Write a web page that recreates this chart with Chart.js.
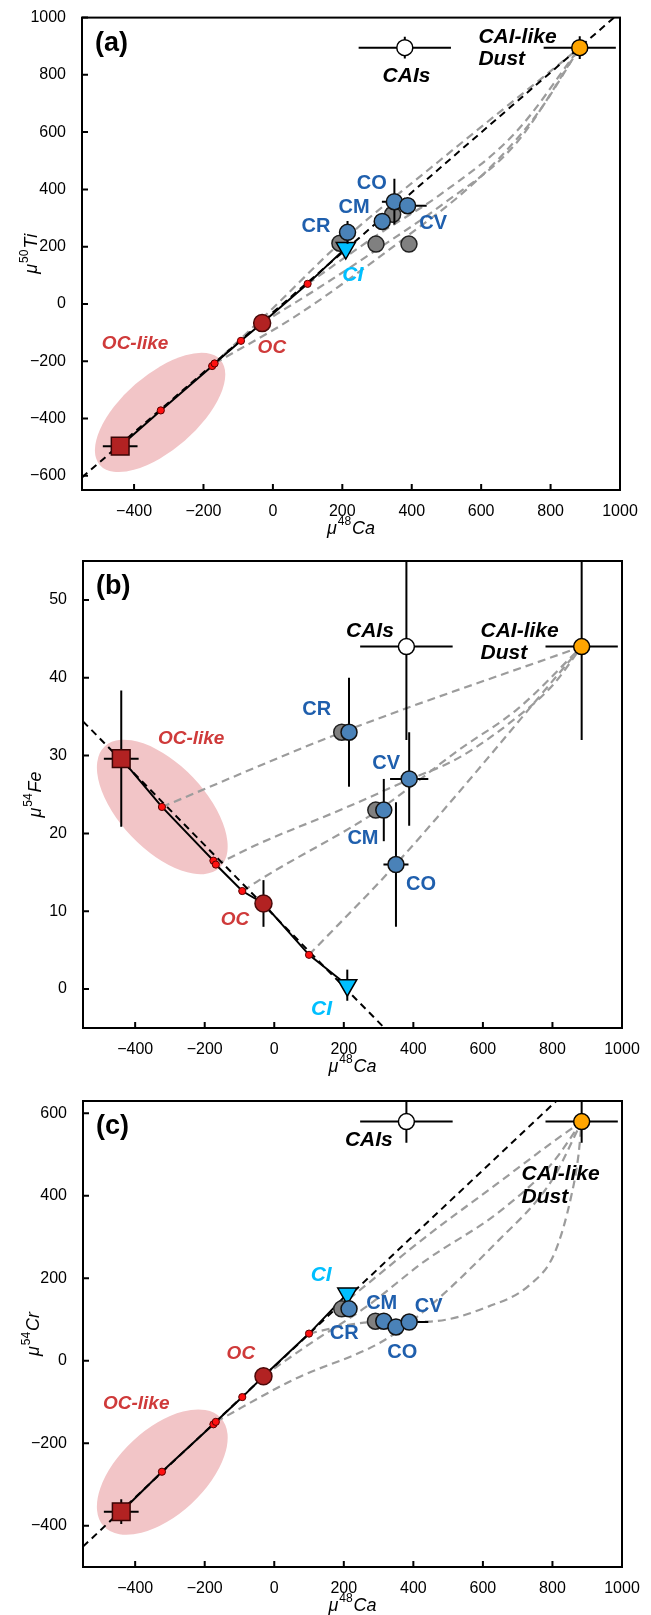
<!DOCTYPE html>
<html>
<head>
<meta charset="utf-8">
<script src="https://cdn.jsdelivr.net/npm/chart.js@4.4.1/dist/chart.umd.min.js"></script>
<style>
  body { margin: 0; background: #fff; }
  .panel { position: absolute; left: 0; }
</style>
</head>
<body>
<div class="panel" style="top:0px"><canvas id="chartA" width="651" height="540"></canvas></div>
<div class="panel" style="top:540px"><canvas id="chartB" width="651" height="540"></canvas></div>
<div class="panel" style="top:1080px"><canvas id="chartC" width="651" height="535"></canvas></div>
<script>
// ---- tick labels ----
const ticksCa = [-400, -200, 0, 200, 400, 600, 800, 1000];
const ticksTi = [-600, -400, -200, 0, 200, 400, 600, 800, 1000];
const ticksFe = [0, 10, 20, 30, 40, 50];
const ticksCr = [-400, -200, 0, 200, 400, 600];

// ---- CAIs, CAI-like Dust ----
const refCa = [380, 884];
const refCaErr = [133, 104];
const refTi = [895, 895];
const refTiErr = [38, 40];
const refFe = [44, 44];
const refFeErr = [12, 12];
const refCr = [580, 580];
const refCrErr = [51, 51];

// ---- OC-like, OC, CI ----
const ocCa = [-440, -31, 210];
const ocCaErr = [50, 0, 0];
const ocTi = [-497, -67, 195];
const ocFe = [29.6, 11, 0.5];
const ocFeErr = [8.75, 3, 2];
const ocCr = [-366, -37.5, 163];
const ocCrErr = [30, 0, 0];

// ---- carbonaceous chondrites: CR, CM, CO, CV ----
const ccCa = [215, 315, 350, 388];
const ccCaErr = [0, 0, 36, 55];
const ccTi = [250, 288, 357, 343];
const ccTiErr = [40, 0, 80, 0];
const ccFe = [33, 23, 16, 27];
const ccFeErr = [7, 4, 8, 6];
const ccCr = [126, 96, 82, 94];

// grey points behind the groups
const greyCaA = [193, 297, 392, 345];
const greyTi = [212, 209, 209, 313];
const greyCaB = [194, 292];
const greyFe = [33, 23];
const greyCaC = [194, 291];
const greyCr = [126, 96];

// ---- small points on the OC - CI line ----
const mixCa = [-323, -175, -168, -92, 100];
const mixTi = [-372, -217, -208, -129, 70];
const mixFe = [23.4, 16.5, 16.0, 12.6, 4.4];
const mixCr = [-269, -154, -148, -88, 66];

// ---- black dashed regression lines ----
const dashCa = [-550, 1000];
const dashTi = [-606, 1018];
const dashCaB = [-550, 330];
const dashFe = [34.4, -5.6];
const dashCr = [-450.6, 780];

// ---- grey mixing curves to the CAI-like dust ----
const curvesTi = [
  [[-168, -208], [0, -15], [193, 212], [480, 500], [884, 895]],
  [[100, 70], [300, 240], [480, 380], [700, 600], [884, 895]],
  [[-31, -67], [150, 70], [300, 190], [480, 340], [700, 560], [884, 895]],
  [[-168, -208], [59, -48], [251, 114], [385, 235], [530, 370], [649, 505], [769, 676], [884, 895]]
];
const curvesFe = [
  [[-323, 23.4], [195, 33], [884, 44]],
  [[-167, 16.0], [-43, 18.7], [200, 23.2], [387, 26.9], [530, 29.7], [700, 35], [800, 39], [884, 44]],
  [[-90, 12.6], [-43, 14], [300, 23], [530, 30.7], [700, 36], [884, 44]],
  [[100, 4.4], [349, 16], [884, 44]]
];
const curvesCr = [
  [[215, 150], [435, 300], [645, 432], [800, 530], [884, 580]],
  [[-31, -37], [100, 40], [263, 130], [435, 243], [645, 360], [800, 480], [884, 580]],
  [[-168, -148], [52, -47], [339, 62], [645, 292], [800, 440], [884, 580]],
  [[100, 66], [200, 85], [291, 94], [443, 95], [617, 132], [736, 185], [807, 263], [855, 403], [875, 500], [884, 580]]
];

const FONT = '"Liberation Sans", Arial, Helvetica, sans-serif';
const BLUE = '#1f5fad', RED = '#cf3a3a', CYAN = '#00bfff';

const pts = (xs, ys) => xs.map((v, i) => ({ x: v, y: ys[i] }));
const fmt = v => (v < 0 ? '\u2212' + Math.abs(v) : String(v));

// draws "μ", a superscript mass number and the element, optionally rotated
function drawMu(ctx, sup, tail, cx, cy, rotate) {
  ctx.save();
  ctx.translate(cx, cy);
  if (rotate) ctx.rotate(-Math.PI / 2);
  const big = 'italic 18px ' + FONT, small = '12px ' + FONT;
  ctx.font = big;
  const w1 = ctx.measureText('\u03bc').width, w3 = ctx.measureText(tail).width;
  ctx.font = small;
  const w2 = ctx.measureText(sup).width;
  let x0 = -(w1 + w2 + w3 + 2) / 2;
  ctx.fillStyle = '#000';
  ctx.textAlign = 'left';
  ctx.textBaseline = 'alphabetic';
  ctx.font = big; ctx.fillText('\u03bc', x0, 6);
  ctx.font = small; ctx.fillText(sup, x0 + w1 + 1, -3);
  ctx.font = big; ctx.fillText(tail, x0 + w1 + w2 + 2, 6);
  ctx.restore();
}

const labelStyle = {
  k: { font: 'italic bold 21px ' + FONT, color: '#000', size: 21 },
  b: { font: 'bold 20px ' + FONT, color: BLUE, size: 20 },
  r: { font: 'italic bold 19px ' + FONT, color: RED, size: 19 },
  c: { font: 'italic bold 21px ' + FONT, color: CYAN, size: 21 }
};

const decor = {
  id: 'decor',
  beforeDatasetsDraw(chart, args, o) {
    const { ctx, chartArea: a } = chart;
    const x = chart.scales.x, y = chart.scales.y;
    const e = o.ellipse;
    ctx.save();
    ctx.beginPath();
    ctx.rect(a.left, a.top, a.width, a.height);
    ctx.clip();
    ctx.beginPath();
    ctx.ellipse(x.getPixelForValue(e.x), y.getPixelForValue(e.y), e.rx, e.ry, e.rot * Math.PI / 180, 0, 2 * Math.PI);
    ctx.fillStyle = '#f2c5c7';
    ctx.fill();
    ctx.restore();
  },
  // error bars go right under the markers they belong to
  beforeDatasetDraw(chart, args) {
    const ds = chart.data.datasets[args.index];
    if (!ds.errX && !ds.errY) return;
    const { ctx, chartArea: a } = chart;
    const x = chart.scales.x, y = chart.scales.y;
    ctx.save();
    ctx.beginPath();
    ctx.rect(a.left, a.top, a.width, a.height);
    ctx.clip();
    ctx.strokeStyle = '#000';
    ctx.lineWidth = 2;
    ds.data.forEach((p, i) => {
      const px = x.getPixelForValue(p.x), py = y.getPixelForValue(p.y);
      ctx.beginPath();
      if (ds.errX && ds.errX[i]) {
        ctx.moveTo(x.getPixelForValue(p.x - ds.errX[i]), py);
        ctx.lineTo(x.getPixelForValue(p.x + ds.errX[i]), py);
      }
      if (ds.errY && ds.errY[i]) {
        ctx.moveTo(px, y.getPixelForValue(p.y - ds.errY[i]));
        ctx.lineTo(px, y.getPixelForValue(p.y + ds.errY[i]));
      }
      ctx.stroke();
    });
    ctx.restore();
  },
  afterDraw(chart, args, o) {
    const { ctx, chartArea: a } = chart;
    const x = chart.scales.x, y = chart.scales.y;
    ctx.save();
    // frame
    ctx.strokeStyle = '#000';
    ctx.lineWidth = 2;
    ctx.strokeRect(a.left, a.top, a.width, a.height);
    // inward ticks on bottom and left
    ctx.beginPath();
    x.ticks.forEach(t => {
      const px = x.getPixelForValue(t.value);
      ctx.moveTo(px, a.bottom); ctx.lineTo(px, a.bottom - 6);
    });
    y.ticks.forEach(t => {
      const py = y.getPixelForValue(t.value);
      ctx.moveTo(a.left, py); ctx.lineTo(a.left + 6, py);
    });
    ctx.stroke();
    // panel letter
    ctx.fillStyle = '#000';
    ctx.font = 'bold 27px ' + FONT;
    ctx.textAlign = 'left';
    ctx.textBaseline = 'alphabetic';
    ctx.fillText(o.letter, a.left + 13, a.top + 33);
    // axis titles
    drawMu(ctx, '48', 'Ca', (a.left + a.right) / 2, a.bottom + 38, false);
    drawMu(ctx, o.ySup, o.yEl, o.yTitleX, (a.top + a.bottom) / 2, true);
    // text labels
    o.labels.forEach(l => {
      const s = labelStyle[l.s];
      ctx.font = s.font;
      ctx.fillStyle = s.color;
      ctx.textAlign = l.left ? 'left' : 'center';
      ctx.fillText(l.t, x.getPixelForValue(l.x), y.getPixelForValue(l.y) + s.size * 0.36);
    });
    ctx.restore();
  }
};

function axes(ticksY, yMin, yMax, yWidth, xHeight) {
  const tickFont = { family: FONT, size: 16 };
  return {
    x: {
      type: 'linear', min: -550, max: 1000,
      afterBuildTicks: s => { s.ticks = ticksCa.map(v => ({ value: v })); },
      afterFit: s => { s.height = xHeight; },
      grid: { display: false }, border: { display: false },
      ticks: { padding: 4, color: '#000', font: tickFont, callback: fmt, maxRotation: 0, autoSkip: false }
    },
    y: {
      type: 'linear', min: yMin, max: yMax,
      afterBuildTicks: s => { s.ticks = ticksY.map(v => ({ value: v })); },
      afterFit: s => { s.width = yWidth; },
      grid: { display: false }, border: { display: false },
      ticks: { padding: 8, color: '#000', font: tickFont, callback: fmt, autoSkip: false }
    }
  };
}

function buildDatasets(p) {
  const ds = [];
  // CAIs and CAI-like dust
  ds.push({ data: pts(refCa, p.refY), errX: refCaErr, errY: p.refYErr, order: 1,
    pointRadius: 8, pointStyle: 'circle', borderWidth: 1.5, borderColor: '#000',
    backgroundColor: ['#ffffff', '#ffa500'] });
  // carbonaceous chondrite groups
  ds.push({ data: pts(ccCa, p.ccY), errX: ccCaErr, errY: p.ccYErr, order: 2,
    pointRadius: 8, pointStyle: 'circle', borderWidth: 1.5, borderColor: '#111', backgroundColor: '#4a82b8' });
  // CI
  ds.push({ data: [{ x: ocCa[2], y: p.ocY[2] }], errY: p.ciErr, order: 3,
    pointRadius: 11, pointStyle: 'triangle', rotation: 180, borderWidth: 1.5, borderColor: '#000', backgroundColor: CYAN });
  // grey points
  ds.push({ data: pts(p.greyX, p.greyY), order: 4,
    pointRadius: 8, pointStyle: 'circle', borderWidth: 1.5, borderColor: '#222', backgroundColor: '#808080' });
  // OC
  ds.push({ data: [{ x: ocCa[1], y: p.ocY[1] }], errY: p.ocErr, order: 5,
    pointRadius: 8.5, pointStyle: 'circle', borderWidth: 1.5, borderColor: '#4a0a0a', backgroundColor: '#b22222' });
  // OC-like
  ds.push({ data: [{ x: ocCa[0], y: p.ocY[0] }], errX: [ocCaErr[0]], errY: p.ocLikeErr, order: 5,
    pointRadius: 12.5, pointStyle: 'rect', borderWidth: 1.5, borderColor: '#3a0505', backgroundColor: '#b22222' });
  // small points along the OC-CI line
  ds.push({ data: pts(mixCa, p.mixY), order: 5,
    pointRadius: 3.6, pointStyle: 'circle', borderWidth: 1, borderColor: '#5a0000', backgroundColor: '#ff1010' });
  // solid OC-like -> CI line
  const lineX = [ocCa[0], ...mixCa.slice(0, 4), ocCa[1], mixCa[4], ocCa[2]];
  const lineY = [p.ocY[0], ...p.mixY.slice(0, 4), p.ocY[1], p.mixY[4], p.ocY[2]];
  ds.push({ data: pts(lineX, lineY), showLine: true, order: 6, pointRadius: 0,
    borderColor: '#000', borderWidth: 2 });
  // black dashed line
  ds.push({ data: pts(p.dashX, p.dashY), showLine: true, order: 7, pointRadius: 0,
    borderColor: '#000', borderWidth: 2, borderDash: [7, 5] });
  // grey mixing curves
  p.curves.forEach(c => ds.push({
    data: c.map(q => ({ x: q[0], y: q[1] })), showLine: true, order: 8, pointRadius: 0,
    borderColor: '#9c9c9c', borderWidth: 2.2, borderDash: [8, 5], cubicInterpolationMode: 'monotone'
  }));
  return ds;
}

function makeChart(id, p) {
  return new Chart(document.getElementById(id), {
    type: 'scatter',
    data: { datasets: buildDatasets(p) },
    options: {
      responsive: false,
      animation: false,
      events: [],
      layout: { padding: { top: p.top, right: p.right, bottom: 0, left: 0 } },
      scales: axes(p.ticksY, p.yMin, p.yMax, p.yWidth, p.xHeight),
      plugins: {
        legend: { display: false },
        tooltip: { enabled: false },
        decor: { letter: p.letter, ySup: p.ySup, yEl: p.yEl, yTitleX: p.yTitleX,
                 ellipse: p.ellipse, labels: p.labels }
      }
    },
    plugins: [decor]
  });
}

makeChart('chartA', {
  letter: '(a)', ySup: '50', yEl: 'Ti', yTitleX: 31,
  ticksY: ticksTi, yMin: -650, yMax: 1000, yWidth: 82, xHeight: 50, top: 15, right: 31,
  refY: refTi, refYErr: refTiErr, ccY: ccTi, ccYErr: ccTiErr, ocY: ocTi,
  ciErr: null, ocErr: null, ocLikeErr: null,
  greyX: greyCaA, greyY: greyTi, mixY: mixTi, dashX: dashCa, dashY: dashTi, curves: curvesTi,
  ellipse: { x: -325, y: -379, rx: 80, ry: 37.5, rot: -41 },
  labels: [
    { t: 'CAIs', x: 385, y: 800, s: 'k' },
    { t: 'CAI-like', x: 592, y: 936, s: 'k', left: true },
    { t: 'Dust', x: 592, y: 861, s: 'k', left: true },
    { t: 'CO', x: 285, y: 427, s: 'b' },
    { t: 'CM', x: 234, y: 343, s: 'b' },
    { t: 'CR', x: 124, y: 276, s: 'b' },
    { t: 'CV', x: 462, y: 288, s: 'b' },
    { t: 'CI', x: 230, y: 108, s: 'c' },
    { t: 'OC-like', x: -397, y: -132, s: 'r' },
    { t: 'OC', x: -3, y: -146, s: 'r' }
  ]
});

makeChart('chartB', {
  letter: '(b)', ySup: '54', yEl: 'Fe', yTitleX: 35,
  ticksY: ticksFe, yMin: -5, yMax: 55, yWidth: 83, xHeight: 52, top: 21, right: 29,
  refY: refFe, refYErr: refFeErr, ccY: ccFe, ccYErr: ccFeErr, ocY: ocFe,
  ciErr: [ocFeErr[2]], ocErr: [ocFeErr[1]], ocLikeErr: [ocFeErr[0]],
  greyX: greyCaB, greyY: greyFe, mixY: mixFe, dashX: dashCaB, dashY: dashFe, curves: curvesFe,
  ellipse: { x: -322, y: 23.4, rx: 83.6, ry: 42.6, rot: 46.4 },
  labels: [
    { t: 'CAIs', x: 275, y: 46.2, s: 'k' },
    { t: 'CAI-like', x: 593, y: 46.2, s: 'k', left: true },
    { t: 'Dust', x: 593, y: 43.4, s: 'k', left: true },
    { t: 'CR', x: 122, y: 36.1, s: 'b' },
    { t: 'CV', x: 322, y: 29.2, s: 'b' },
    { t: 'CM', x: 255, y: 19.6, s: 'b' },
    { t: 'CO', x: 422, y: 13.7, s: 'b' },
    { t: 'OC-like', x: -239, y: 32.4, s: 'r' },
    { t: 'OC', x: -113, y: 9.1, s: 'r' },
    { t: 'CI', x: 136, y: -2.3, s: 'c' }
  ]
});

makeChart('chartC', {
  letter: '(c)', ySup: '54', yEl: 'Cr', yTitleX: 33,
  ticksY: ticksCr, yMin: -500, yMax: 630, yWidth: 83, xHeight: 48, top: 21, right: 29,
  refY: refCr, refYErr: refCrErr, ccY: ccCr, ccYErr: null, ocY: ocCr,
  ciErr: null, ocErr: null, ocLikeErr: [ocCrErr[0]],
  greyX: greyCaC, greyY: greyCr, mixY: mixCr, dashX: dashCa, dashY: dashCr, curves: curvesCr,
  ellipse: { x: -322, y: -270, rx: 79.8, ry: 42.9, rot: -42.8 },
  labels: [
    { t: 'CAIs', x: 272, y: 538, s: 'k' },
    { t: 'CAI-like', x: 711, y: 457, s: 'k', left: true },
    { t: 'Dust', x: 711, y: 401, s: 'k', left: true },
    { t: 'CI', x: 135, y: 211, s: 'c' },
    { t: 'CM', x: 309, y: 142, s: 'b' },
    { t: 'CV', x: 444, y: 137, s: 'b' },
    { t: 'CR', x: 201, y: 70, s: 'b' },
    { t: 'CO', x: 368, y: 25, s: 'b' },
    { t: 'OC', x: -96, y: 21, s: 'r' },
    { t: 'OC-like', x: -397, y: -101, s: 'r' }
  ]
});
</script>
</body>
</html>
